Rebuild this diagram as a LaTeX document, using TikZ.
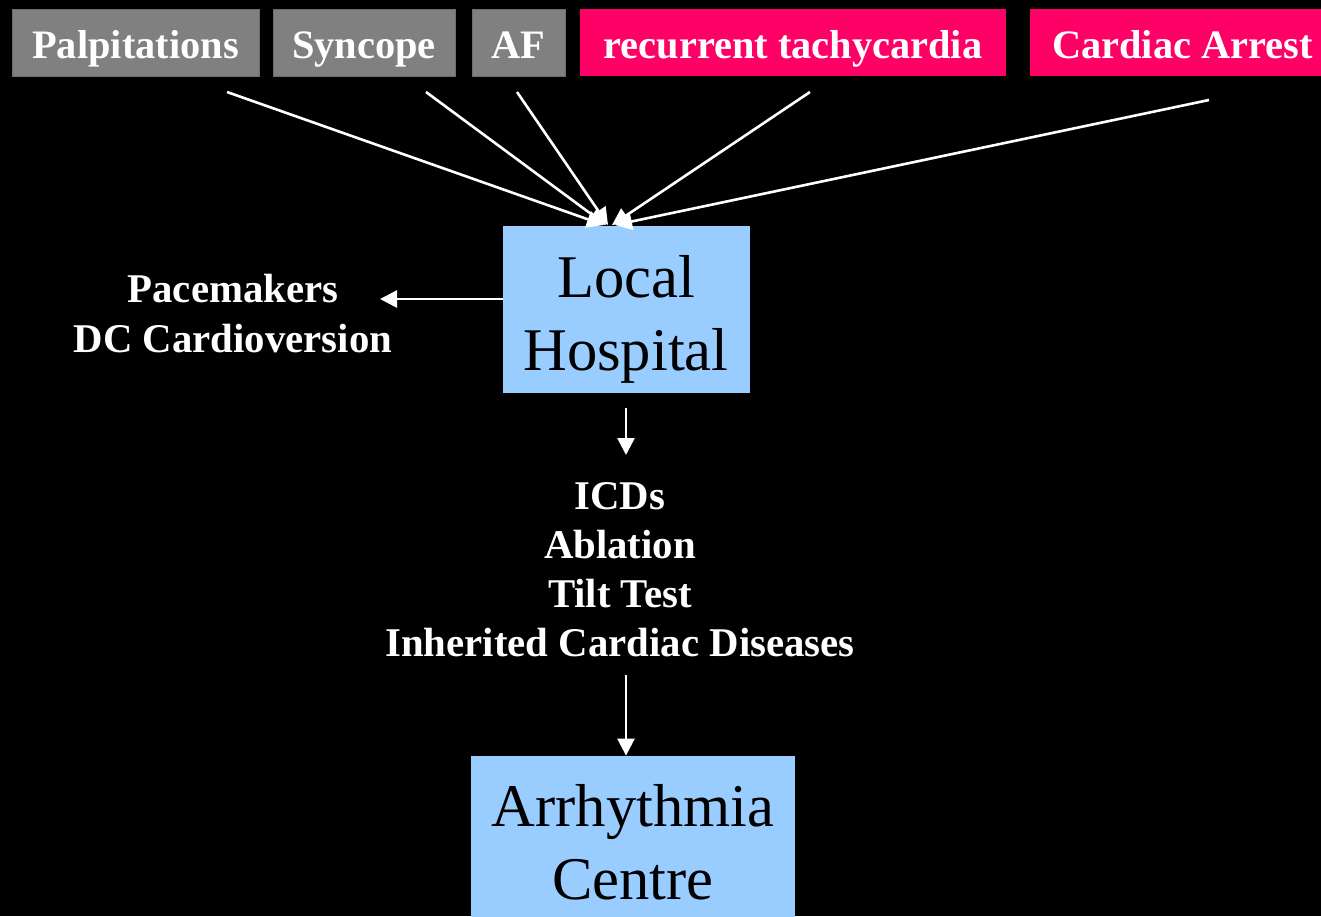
\documentclass[tikz,border=0pt]{standalone}
\usepackage{fontspec}
\setmainfont{Liberation Serif}
\usetikzlibrary{arrows.meta}
\definecolor{boxgray}{RGB}{128,128,128}
\definecolor{boxpink}{RGB}{255,0,102}
\definecolor{boxblue}{RGB}{153,204,255}
\tikzset{
  topbox/.style={minimum height=33.5pt, inner sep=0pt, text height=20pt, text depth=4.5pt, text=white, font=\fontsize{20.2}{24}\selectfont\bfseries},
  graybox/.style={topbox, fill=boxgray, draw=boxgray!85!black, line width=0.4pt},
  pinkbox/.style={topbox, fill=boxpink},
  bluebox/.style={fill=boxblue, inner sep=0pt},
  bigtext/.style={align=center, inner sep=0pt, font=\fontsize{30.3}{36.5}\selectfont},
  labeltext/.style={align=center, inner sep=0pt, text=white},
  arr/.style={draw=white, line width=1.3pt, -{Triangle[length=8.5pt,width=8.5pt]}},
}
\begin{document}
\begin{tikzpicture}[x=0.5pt,y=-0.5pt]
\fill[black] (0,0) rectangle (1321,916);
\useasboundingbox (0,0) rectangle (1321,916);
% top boxes
\node[graybox, minimum width=123.5pt] (palp) at (135.5,42.5) {Palpitations};
\node[graybox, minimum width=91pt] (sync) at (364,42.5) {Syncope};
\node[graybox, minimum width=46.5pt] (af) at (518.5,42.5) {AF};
\node[pinkbox, minimum width=213pt] (tach) at (793,42.5) {recurrent tachycardia};
\node[pinkbox, minimum width=152.5pt] (arrest) at (1182.5,42.5) {Cardiac Arrest};
% local hospital
\node[bluebox, minimum width=123.5pt, minimum height=83.5pt] (lh) at (626.5,309.5) {};
\node[bigtext] (lht) at (626,319.5) {Local\\Hospital};
% arrhythmia centre
\node[bluebox, minimum width=162pt, minimum height=87pt] (ac) at (633,843) {};
\node[bigtext] (act) at (633,842.5) {Arrhythmia\\Centre};
% labels
\node[labeltext, font=\fontsize{20.4}{25}\selectfont\bfseries] (pm) at (233,314) {Pacemakers\\DC Cardioversion};
\node[labeltext, font=\fontsize{20.4}{24.5}\selectfont\bfseries] (icd) at (620,570) {ICDs\\Ablation\\Tilt Test\\Inherited Cardiac Diseases};
% arrow start / end coordinates
\coordinate (s1) at (227,92);
\coordinate (s2) at (426,92);
\coordinate (s3) at (517,92);
\coordinate (s4) at (810,92);
\coordinate (s5) at (1209,100);
\coordinate (e1) at (604,225);
\coordinate (e2) at (606,225);
\coordinate (e3) at (608,225);
\coordinate (e4) at (612,225);
\coordinate (e5) at (615,225);
\coordinate (pmend) at (380,299);
\coordinate (d1s) at (626,408);
\coordinate (d1e) at (626,455);
\coordinate (d2s) at (626,675);
\draw[arr] (s1) -- (e1);
\draw[arr] (s2) -- (e2);
\draw[arr] (s3) -- (e3);
\draw[arr] (s4) -- (e4);
\draw[arr] (s5) -- (e5);
\draw[arr] (lh.west |- pmend) -- (pmend);
\draw[arr] (d1s) -- (d1e);
\draw[arr] (d2s) -- (d2s |- ac.north);
\end{tikzpicture}
\end{document}
